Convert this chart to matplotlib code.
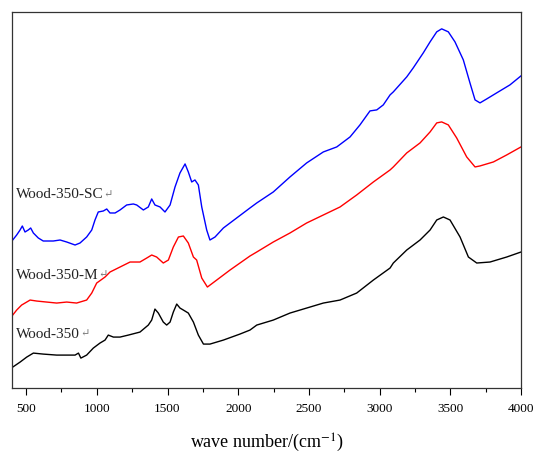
import matplotlib
matplotlib.use("Agg")
import matplotlib.pyplot as plt

plt.rcParams['font.family'] = ['Liberation Serif', 'DejaVu Serif']
plt.rcParams['mathtext.fontset'] = 'stix'

# wave number (cm-1) and absorbance (a.u.)
wn_sc = [405, 433, 457, 473, 492, 515, 532, 551, 586, 621, 692, 740, 787, 846, 881,
         928, 964, 987, 1010, 1046, 1070, 1093, 1129, 1164, 1211, 1258, 1282, 1329,
         1364, 1388, 1411, 1447, 1482, 1518, 1553, 1588, 1624, 1647, 1671, 1694, 1718,
         1742, 1777, 1800, 1836, 1895, 1989, 2083, 2131, 2248, 2366, 2484, 2602, 2697,
         2791, 2861, 2932, 2980, 3026, 3074, 3097, 3192, 3238, 3309, 3357, 3404, 3439,
         3486, 3533, 3592, 3639, 3675, 3710, 3758, 3828, 3922, 4000]
ab_sc = [1.48, 1.53, 1.58, 1.62, 1.56, 1.58, 1.60, 1.55, 1.50, 1.47, 1.47, 1.48, 1.46,
         1.43, 1.45, 1.51, 1.58, 1.68, 1.76, 1.77, 1.79, 1.75, 1.75, 1.78, 1.83, 1.84,
         1.83, 1.78, 1.81, 1.89, 1.83, 1.81, 1.76, 1.83, 2.01, 2.15, 2.24, 2.16, 2.06,
         2.08, 2.03, 1.81, 1.58, 1.48, 1.51, 1.60, 1.70, 1.80, 1.85, 1.96, 2.11, 2.25,
         2.36, 2.41, 2.51, 2.63, 2.77, 2.78, 2.83, 2.93, 2.96, 3.11, 3.20, 3.35, 3.46,
         3.56, 3.59, 3.56, 3.46, 3.28, 3.05, 2.88, 2.85, 2.89, 2.95, 3.03, 3.12]

wn_m = [405, 433, 468, 528, 575, 645, 716, 787, 857, 928, 964, 999, 1058, 1093, 1164,
        1235, 1305, 1353, 1388, 1423, 1470, 1506, 1541, 1577, 1612, 1647, 1683, 1706,
        1742, 1782, 1848, 1942, 2083, 2131, 2248, 2366, 2484, 2602, 2720, 2838, 2956,
        3074, 3097, 3192, 3286, 3357, 3404, 3439, 3486, 3545, 3616, 3675, 3710, 3805,
        3899, 4000]
ab_m = [0.73, 0.78, 0.83, 0.88, 0.87, 0.86, 0.85, 0.86, 0.85, 0.88, 0.95, 1.05, 1.11,
        1.16, 1.21, 1.26, 1.26, 1.30, 1.33, 1.31, 1.25, 1.28, 1.41, 1.51, 1.52, 1.45,
        1.31, 1.28, 1.10, 1.01, 1.08, 1.18, 1.32, 1.36, 1.46, 1.55, 1.65, 1.73, 1.81,
        1.93, 2.06, 2.18, 2.21, 2.35, 2.45, 2.56, 2.65, 2.66, 2.63, 2.50, 2.31, 2.21,
        2.22, 2.26, 2.33, 2.41]

wn_w = [405, 457, 504, 551, 621, 716, 787, 846, 870, 887, 928, 975, 1022, 1058, 1081,
        1117, 1164, 1223, 1305, 1364, 1388, 1411, 1435, 1470, 1494, 1518, 1541, 1565,
        1588, 1612, 1647, 1683, 1718, 1754, 1800, 1895, 2012, 2083, 2131, 2248, 2366,
        2484, 2602, 2720, 2838, 2956, 3074, 3097, 3192, 3286, 3357, 3404, 3451, 3498,
        3569, 3628, 3687, 3781, 3899, 4000]
ab_w = [0.21, 0.26, 0.31, 0.35, 0.34, 0.33, 0.33, 0.33, 0.35, 0.30, 0.33, 0.40, 0.45,
        0.48, 0.53, 0.51, 0.51, 0.53, 0.56, 0.63, 0.68, 0.79, 0.75, 0.66, 0.63, 0.66,
        0.76, 0.84, 0.80, 0.78, 0.75, 0.66, 0.53, 0.44, 0.44, 0.48, 0.54, 0.58, 0.63,
        0.68, 0.75, 0.80, 0.85, 0.88, 0.95, 1.08, 1.20, 1.25, 1.38, 1.48, 1.58, 1.68,
        1.71, 1.68, 1.51, 1.31, 1.25, 1.26, 1.31, 1.36]

names = ['Wood-350-SC', 'Wood-350-M', 'Wood-350']
name_y = [1.93, 1.13, 0.54]
xticks = [500, 1000, 1500, 2000, 2500, 3000, 3500, 4000]

fig = plt.figure(figsize=(5.36, 4.55), dpi=100)
ax = fig.add_axes([0.0224, 0.147, 0.9496, 0.827])

ax.plot(wn_sc, ab_sc, color='#0000ff', lw=1.0)
ax.plot(wn_m, ab_m, color='#ff0000', lw=1.0)
ax.plot(wn_w, ab_w, color='black', lw=1.0)

for name, y in zip(names, name_y):
    t = ax.text(0.008, y, name, transform=ax.get_yaxis_transform(), fontsize=11,
                va='center', ha='left', color='#222222')
    # the little return mark after each name
    ax.annotate('\u21b5', xycoords=t, xy=(1, 0.5), va='center', ha='left',
                fontsize=8, color='#777777')

ax.set_xlim(400, 4000)
ax.set_ylim(0, 3.76)
ax.set_xticks(xticks)
ax.set_xticks([750, 1250, 1750, 2250, 2750, 3250, 3750], minor=True)
ax.tick_params(axis='x', which='major', direction='out', length=5, width=0.8,
               labelsize=9.5, pad=6)
ax.tick_params(axis='x', which='minor', direction='out', length=3, width=0.8)
ax.set_yticks([])
for s in ax.spines.values():
    s.set_linewidth(0.9)
    s.set_color('#333333')

ax.set_xlabel('wave number/(cm$^{-1}$)', fontsize=13, labelpad=12)

fig.savefig('out.png', dpi=100)
